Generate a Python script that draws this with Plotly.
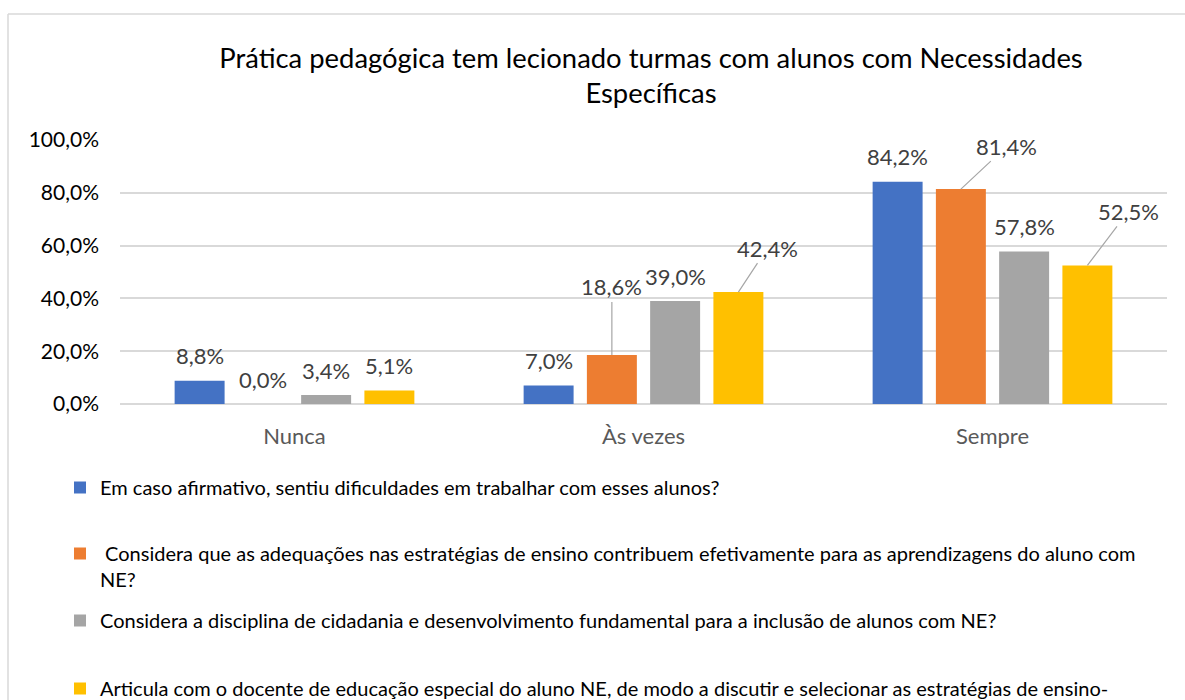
import plotly.graph_objects as go

# ---------------- data ----------------
categories = ["Nunca", "Às vezes", "Sempre"]
series_names = [
    "Em caso afirmativo, sentiu dificuldades em trabalhar com esses alunos?",
    "\u00a0Considera que as adequações nas estratégias de ensino contribuem efetivamente para as aprendizagens do aluno com<br>NE?",
    "Considera a disciplina de cidadania e desenvolvimento fundamental para a inclusão de alunos com NE?",
    "Articula com o docente de educação especial do aluno NE, de modo a discutir e selecionar as estratégias de ensino-",
]
dificuldades = [8.8, 7.0, 84.2]
adequacoes = [0.0, 18.6, 81.4]
cidadania = [3.4, 39.0, 57.8]
articula = [5.1, 42.4, 52.5]
y_ticks = [0, 20, 40, 60, 80, 100]
y_tick_labels = ["0,0%", "20,0%", "40,0%", "60,0%", "80,0%", "100,0%"]
title_text = "Prática pedagógica tem lecionado turmas com alunos com Necessidades<br>Específicas"

series_values = [dificuldades, adequacoes, cidadania, articula]
colors = ["#4472C4", "#ED7D31", "#A5A5A5", "#FFC000"]

# ---------------- layout constants (pixels) ----------------
W, H = 1185, 700
M_L, M_R, M_T, M_B = 120, 18, 140, 296
BARGAP = 0.275
BARGROUPGAP = 0.21
FONT = "Lato, 'Open Sans', sans-serif"

plot_w = W - M_L - M_R
plot_h = H - M_T - M_B
plot_bottom = H - M_B
cat_w = plot_w / len(categories)
slot = cat_w * (1 - BARGAP) / len(series_values)


def px_x(px):
    return (px - M_L) / plot_w


def px_y(py):
    return (plot_bottom - py) / plot_h


# leader-line labels: (series index, category index) -> (ax, ay) offsets in px
leader = {
    (1, 1): (0, -68),
    (3, 1): (29, -44),
    (1, 2): (46, -43),
    (3, 2): (41, -54),
}
LABEL_LIFT = 25

# legend tops (px) for each entry
legend_tops = [468, 534, 601, 669]
legend_ids = ["legend", "legend2", "legend3", "legend4"]

fig = go.Figure()
for i, (name, vals, col) in enumerate(zip(series_names, series_values, colors)):
    fig.add_trace(go.Bar(
        x=categories, y=vals, name=name,
        marker=dict(color=col, line=dict(width=0)),
        legend=legend_ids[i], showlegend=True,
        hoverinfo="skip",
    ))

annotations = []
for i, vals in enumerate(series_values):
    dx = (i - (len(series_values) - 1) / 2) * slot
    for j, v in enumerate(vals):
        txt = f"{v:.1f}%".replace(".", ",")
        if (i, j) in leader:
            ax, ay = leader[(i, j)]
            annotations.append(dict(
                x=categories[j], y=v, xref="x", yref="y", text=txt,
                showarrow=True, arrowhead=0, arrowwidth=1.2, arrowcolor="#A6A6A6",
                ax=ax, ay=ay, xshift=dx,
                font=dict(family=FONT, size=22, color="#404040"),
            ))
        else:
            annotations.append(dict(
                x=categories[j], y=v, xref="x", yref="y", text=txt,
                showarrow=False, xshift=dx, yshift=LABEL_LIFT, yanchor="middle",
                font=dict(family=FONT, size=22, color="#404040"),
            ))

legend_style = dict(
    orientation="v", xanchor="left", yanchor="top", valign="top",
    font=dict(family=FONT, size=20, color="#000000"),
    bgcolor="rgba(0,0,0,0)", borderwidth=0, visible=True,
)
legend_layout = {}
for lid, top in zip(legend_ids, legend_tops):
    legend_layout[lid] = dict(legend_style, x=px_x(60), y=px_y(top))

border = dict(color="#D9D9D9", width=1.5)

fig.update_layout(
    width=W, height=H,
    showlegend=True,
    margin=dict(l=M_L, r=M_R, t=M_T, b=M_B, autoexpand=False),
    paper_bgcolor="white", plot_bgcolor="white",
    separators=",.",
    barmode="group", bargap=BARGAP, bargroupgap=BARGROUPGAP,
    font=dict(family=FONT, color="#000000"),
    title=dict(
        text=title_text, x=px_x(651), xref="paper", xanchor="center",
        y=1 - 67.5 / H, yref="container", yanchor="middle",
        font=dict(family=FONT, size=27.4, color="#000000"),
    ),
    xaxis=dict(
        showgrid=False, showline=False, zeroline=False,
        tickfont=dict(family=FONT, size=22, color="#595959"),
        ticklabelstandoff=17,
    ),
    yaxis=dict(
        range=[0, 100], tickvals=y_ticks, ticktext=y_tick_labels,
        showgrid=True, gridcolor="#D9D9D9", gridwidth=1.6,
        zeroline=True, zerolinecolor="#D9D9D9", zerolinewidth=1.6,
        showline=False, ticks="",
        tickfont=dict(family=FONT, size=21, color="#000000"),
        ticklabelstandoff=20,
    ),
    annotations=annotations,
    shapes=[
        # chart-area frame: only its top and left edges fall inside the picture
        dict(type="line", xref="paper", yref="paper",
             x0=px_x(8), x1=px_x(W + 10), y0=px_y(14), y1=px_y(14), line=border, layer="below"),
        dict(type="line", xref="paper", yref="paper",
             x0=px_x(8), x1=px_x(8), y0=px_y(14), y1=px_y(H + 10), line=border, layer="below"),
    ],
    **legend_layout,
)

# remove the default 8px page margin so the 1185x700 figure fills the window exactly
fig.write_html(
    "out.html",
    config={"displayModeBar": False},
    post_script="document.body.style.margin='0';",
)
